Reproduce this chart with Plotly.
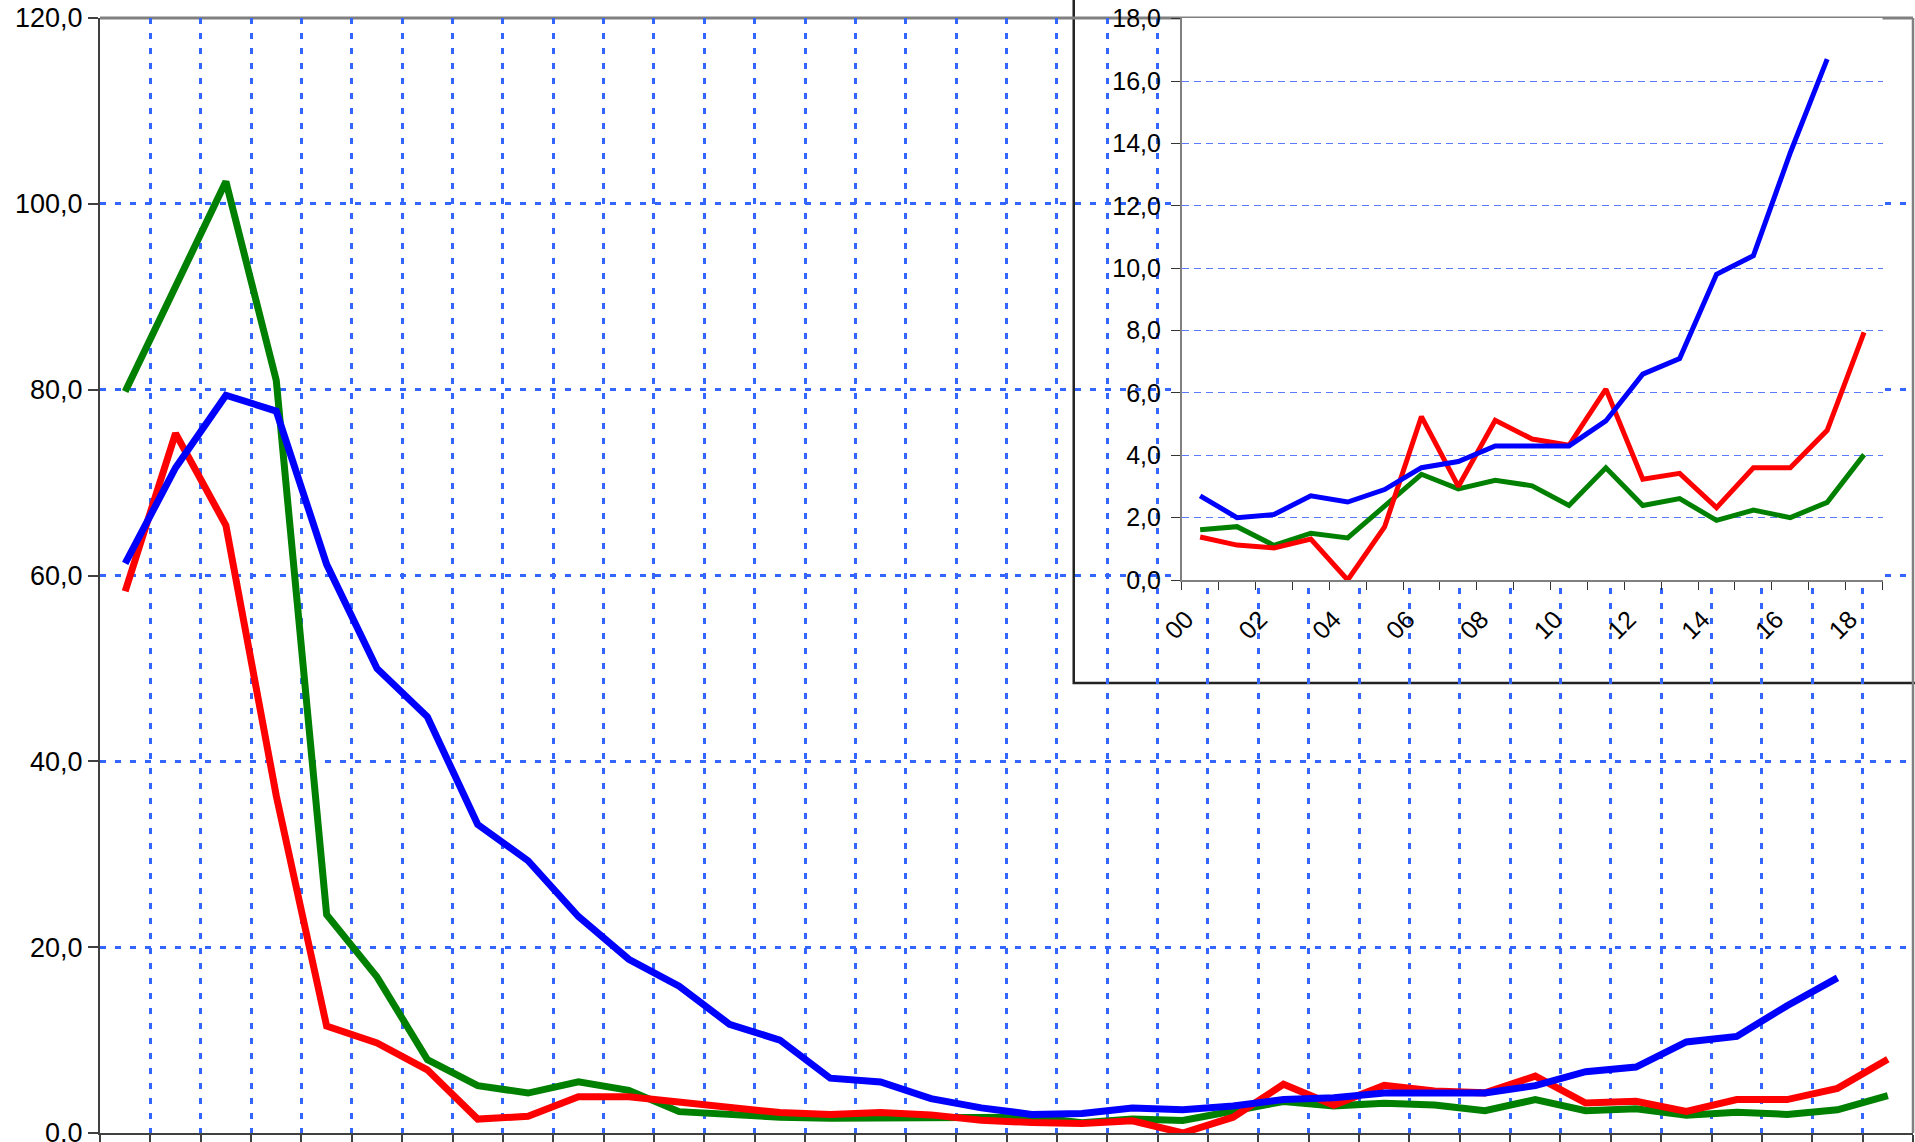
import plotly.graph_objects as go

# ---- data ----
years = list(range(1983, 2019))

blue = [61.3, 71.6, 79.4, 77.7, 61.2, 50.0, 44.8, 33.2, 29.3, 23.3, 18.7, 15.8,
        11.7, 10.0, 5.9, 5.5, 3.7,
        2.7, 2.0, 2.1, 2.7, 2.5, 2.9, 3.6, 3.8, 4.3, 4.3, 4.3, 5.1, 6.6, 7.1,
        9.8, 10.4, 13.7, 16.7, None]

red = [58.3, 75.3, 65.4, 36.3, 11.5, 9.7, 6.8, 1.5, 1.8, 3.9, 3.9, 3.3,
       2.85, 2.2, 2.0, 2.2, 1.95,
       1.38, 1.12, 1.03, 1.31, 0.0, 1.7, 5.24, 3.0, 5.12, 4.52, 4.32, 6.12,
       3.23, 3.42, 2.32, 3.6, 3.6, 4.8, 7.94]

green = [79.8, 91.1, 102.4, 81.0, 23.5, 16.8, 7.9, 5.1, 4.3, 5.5, 4.6, 2.3,
         2.0, 1.7, 1.6, 1.6, 1.55,
         1.61, 1.71, 1.11, 1.5, 1.35, 2.35, 3.39, 2.92, 3.2, 3.02, 2.39, 3.6,
         2.39, 2.61, 1.91, 2.24, 2.0, 2.49, 4.02]

inset_start_year = 2000
main_yticks = [0, 20, 40, 60, 80, 100, 120]
inset_yticks = [0, 2, 4, 6, 8, 10, 12, 14, 16, 18]

series = [("Series 1", green, "#008000"),
          ("Series 2", red, "#FF0000"),
          ("Series 3", blue, "#0000FF")]

# ---- geometry (figure pixels) ----
W, H = 1915, 1142
ML, MR, MT, MB = 100, 1.5, 18, 9          # main plot area = paper
PW, PH = W - ML - MR, H - MT - MB

def px_x(px):          # figure px -> paper fraction
    return (px - ML) / PW
def px_y(py):
    return (H - MB - py) / PH

ins_x = [1182, 1883]
ins_y = [580, 18]            # bottom (0), top (18)
ins_box_left, ins_box_bottom = 1074, 683

def fmt(v):
    return f"{v:.1f}".replace(".", ",")

FONT = "Liberation Sans, Arial, sans-serif"

fig = go.Figure()
n = len(years)
xi = list(range(n))
k0 = years.index(inset_start_year)
ni = n - k0
xk = list(range(ni))

for name, vals, color in series:
    fig.add_trace(go.Scatter(x=xi, y=vals, mode="lines", name=name,
                             line=dict(color=color, width=7),
                             xaxis="x", yaxis="y", showlegend=False))
for name, vals, color in series:
    fig.add_trace(go.Scatter(x=xk, y=vals[k0:], mode="lines", name=name,
                             line=dict(color=color, width=5),
                             xaxis="x2", yaxis="y2", showlegend=False))

grid_main = dict(showgrid=True, gridcolor="#3366FF", gridwidth=3, griddash="6px,9px")

fig.update_layout(
    width=W, height=H, autosize=False,
    margin=dict(l=ML, r=MR, t=MT, b=MB, pad=0, autoexpand=False),
    showlegend=False,
    paper_bgcolor="white", plot_bgcolor="white",
    font=dict(family=FONT, color="black"),
    xaxis=dict(domain=[0, 1], range=[-0.5, n - 0.5],
               tickmode="linear", tick0=-0.5, dtick=1,
               ticks="outside", ticklen=10, tickwidth=1.5, tickcolor="#404040",
               showticklabels=False, showline=True, linecolor="#404040",
               linewidth=2, zeroline=False, anchor="y", automargin=False,
               **grid_main),
    yaxis=dict(domain=[0, 1], range=[0, 120],
               tickvals=main_yticks, ticktext=[fmt(v) for v in main_yticks],
               ticks="outside", ticklen=10, tickwidth=1.5, tickcolor="#404040",
               tickfont=dict(size=27), ticklabeloverflow="allow",
               showline=True, linecolor="#404040",
               linewidth=2, zeroline=False, anchor="x", automargin=False,
               **grid_main),
    xaxis2=dict(domain=[px_x(ins_x[0]), px_x(ins_x[1])], range=[-0.5, ni - 0.5],
                tickvals=[k for k in xk if k % 2 == 0],
                ticktext=[f"{years[k0 + k] % 100:02d}" for k in xk if k % 2 == 0],
                tickangle=-45, ticks="", tickfont=dict(size=25),
                ticklabelstandoff=13, ticklabelshift=-14,
                minor=dict(tickvals=[k - 0.5 for k in range(ni + 1)],
                           ticks="outside", ticklen=8, tickwidth=1.2,
                           tickcolor="#333333", showgrid=False),
                showline=True, linecolor="#808080", linewidth=1.5,
                showgrid=False, zeroline=False, anchor="y2", automargin=False),
    yaxis2=dict(domain=[px_y(ins_y[0]), px_y(ins_y[1])], range=[0, 18.02],
                tickvals=inset_yticks, ticktext=[fmt(v) for v in inset_yticks],
                ticks="outside", ticklen=9, tickwidth=1.2, tickcolor="#333333",
                tickfont=dict(size=25), ticklabelstandoff=5,
                ticklabeloverflow="allow",
                showline=True, linecolor="#808080",
                linewidth=1.5, showgrid=True, gridcolor="#5A7BFF", gridwidth=1,
                griddash="7px,5px", zeroline=False, anchor="x2", automargin=False),
)

ins_w = ins_x[1] - ins_x[0]
ins_h = ins_y[0] - ins_y[1]
fig.add_shape(type="rect", xref="x2 domain", yref="y2 domain", layer="below",
              x0=(ins_box_left - ins_x[0]) / ins_w, x1=1.3,
              y0=(ins_y[0] - ins_box_bottom) / ins_h, y1=1.3,
              fillcolor="white", line=dict(color="#222222", width=2.5))

# main chart top and right borders
fig.add_shape(type="line", xref="x domain", yref="y domain", layer="below",
              x0=0, x1=1, y0=1, y1=1, line=dict(color="#808080", width=3))
fig.add_shape(type="line", xref="x domain", yref="y domain", layer="below",
              x0=1, x1=1, y0=0, y1=1, line=dict(color="#808080", width=2.5))

fig.write_html(
    "out.html",
    config={"displayModeBar": False},
    post_script="document.body.style.margin='0';"
                "document.documentElement.style.overflow='hidden';"
                "document.body.style.overflow='hidden';",
)
